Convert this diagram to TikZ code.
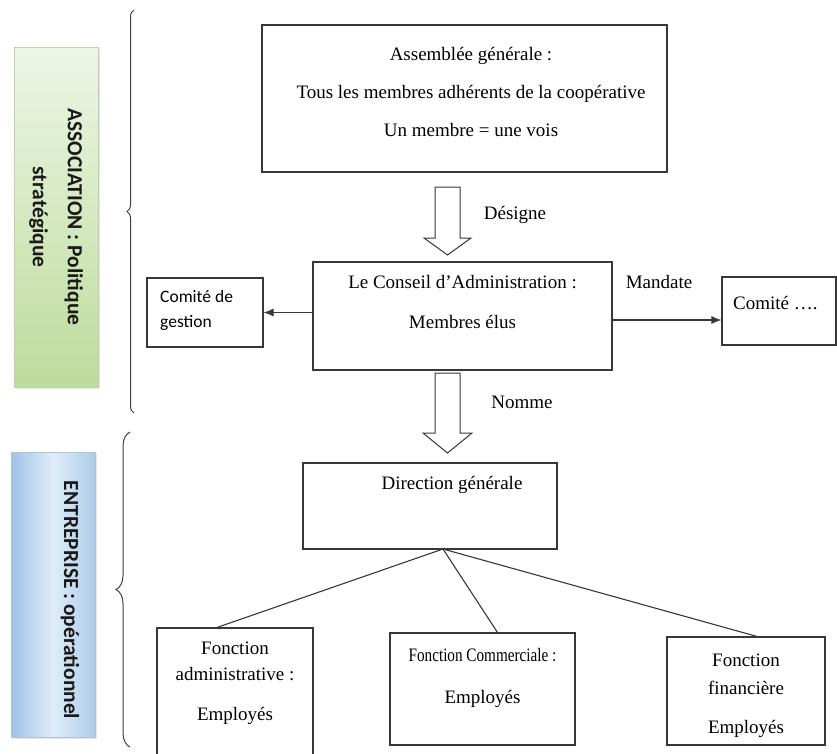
\documentclass[tikz,border=0pt]{standalone}
\usepackage{fontspec}
\setmainfont{Liberation Serif}
\newfontfamily\calib{Carlito}
\usepackage{xcolor}
\usepackage{graphicx}
\usepackage{tikz}
\usetikzlibrary{arrows.meta,calc,positioning,decorations.pathreplacing,shadows}

\definecolor{boxgray}{RGB}{55,55,55}
\definecolor{assogreen}{RGB}{188,220,156}
\definecolor{assolight}{RGB}{238,245,230}
\definecolor{entblue}{RGB}{158,194,230}
\definecolor{entlight}{RGB}{224,237,249}

\begin{document}
\begin{tikzpicture}[x=1pt,y=-1pt,
  cadre/.style={draw=boxgray, line width=1.1pt, inner sep=0pt},
  txt/.style={font=\fontsize{19}{38}\selectfont, align=center, inner sep=0pt},
  petit/.style={font=\calib\fontsize{17.5}{25}\selectfont, align=left, inner sep=0pt},
  bande/.style={font=\calib\bfseries\fontsize{21.5}{35}\selectfont, align=center, inner sep=0pt, rotate=-90, text=black!90},
  fleche/.style={draw=boxgray, line width=1pt, fill=white},
  lien/.style={draw=boxgray, line width=1.1pt},
  accolade/.style={draw=black!75, line width=1pt, decorate}
]
\useasboundingbox (0,0) rectangle (837,753);
\clip (0,0) rectangle (837,753);

% bandes laterales
  \node[draw=assogreen!80!black!60, top color=assolight, bottom color=assogreen, drop shadow={opacity=0.2, shadow xshift=2pt, shadow yshift=-2pt}, minimum width=84, minimum height=340] (asso) at (56,217) {};
  \node[bande] (assot) at (asso.center) {ASSOCIATION : Politique\\stratégique};
  \node[draw=entblue!80!black!60, left color=entblue, right color=entblue!85, middle color=entlight, drop shadow={opacity=0.2, shadow xshift=2pt, shadow yshift=-2pt}, minimum width=84, minimum height=285] (entr) at (53,594.5) {};
  \node[bande] (entrt) at (70,600) {ENTREPRISE : opérationnel};

  \draw[accolade, decoration={brace, amplitude=7pt}] (134,413) -- (134,10);
  \draw[accolade, decoration={brace, amplitude=14pt}] (130,747) -- (130,432);

% organes
  \node[cadre, minimum width=405, minimum height=147] (ag) at (464.5,98.5) {};
  \node[txt] (agt) at (471,92) {Assemblée générale :\\Tous les membres adhérents de la coopérative\\Un membre = une vois};

  \node[cadre, minimum width=299, minimum height=108] (ca) at (462.5,316) {};
  \node[txt, font=\fontsize{19}{40}\selectfont] (cat) at (462.5,302) {Le Conseil d’Administration :\\Membres élus};

  \node[cadre, minimum width=116, minimum height=69] (cg) at (205,312.5) {};
  \node[petit, anchor=west] (cgt) at (160,310.5) {Comité de\\gestion};

  \node[cadre, minimum width=114, minimum height=68] (cm) at (779,311) {};
  \node[txt, anchor=west] (cmt) at (733,303) {Comité ….};

  \node[cadre, minimum width=254, minimum height=86] (dg) at (430,506) {};
  \node[txt] (dgt) at (452,485) {Direction générale};

  \node[cadre, minimum width=156, minimum height=142] (fa) at (235,699) {};
  \node[txt] (fat) at (235,683) {Fonction\\[-12pt]administrative :\\[2pt]Employés};
  \node[cadre, minimum width=185, minimum height=112] (fc) at (482.5,689) {};
  \node[txt, font=\fontsize{19}{42}\selectfont] (fct) at (482.5,678) {\scalebox{0.8}[1]{Fonction Commerciale :}\\Employés};
  \node[cadre, minimum width=158, minimum height=108] (ff) at (746,691) {};
  \node[txt] (fft) at (746,696) {Fonction\\[-10pt]financière\\[1pt]Employés};

% fleches
  \draw[fleche] (435,187) -- (435,238) -- (424,238) -- (447.5,255) -- (471,238) -- (460,238) -- (460,187) -- cycle;
  \node[txt] (des) at (515,215) {Désigne};
  \draw[fleche] (435,373) -- (435,433) -- (423,433) -- (447.5,453) -- (472,433) -- (460,433) -- (460,373) -- cycle;
  \node[txt] (nom) at (522,402) {Nomme};

  \draw[lien, -{Latex[length=10pt,width=8pt]}] (ca.west |- cg.east) -- (cg.east);
  \draw[lien, -{Latex[length=10pt,width=8pt]}] ([yshift=-4pt]ca.east) -- ([yshift=-4pt]ca.east -| cm.west);
  \node[txt] (man) at (659,282) {Mandate};

  \coordinate (dgb) at (443,549);
  \draw[lien] (dgb) -- ([xshift=-18pt]fa.north);
  \draw[lien] (dgb) -- ([xshift=15pt]fc.north);
  \draw[lien] (dgb) -- ([xshift=11pt]ff.north);

\end{tikzpicture}
\end{document}
